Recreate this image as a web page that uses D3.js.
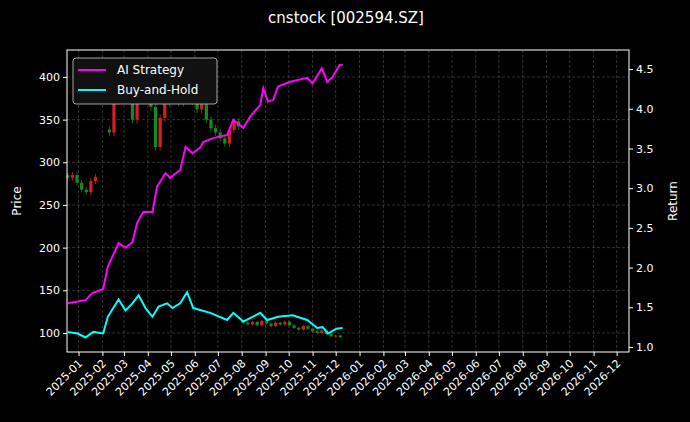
<!DOCTYPE html><html><head><meta charset="utf-8">
<script src="https://cdn.jsdelivr.net/npm/d3@7"></script>
<style>body{margin:0;background:#000}svg{font-family:"DejaVu Sans",sans-serif}</style></head><body>
<svg id="c" width="690" height="422"></svg>
<script>
const title="cnstock [002594.SZ]";
const candleStart="2024-12-18", candleStepDays=6;
const closes=[282,285,276,268,265,278,283,null,null,335,372,388,380,395,350,385,378,388,365,318,352,370,388,378,370,392,385,372,362,368,350,340,335,328,322,338,348,342,112,110,113,109,114,111,108,112,110,113,109,106,104,108,105,102,100,103,99,96,97,95];
const aiDays=[-14,9,18,32,38,52,61,70,76,84,96,102,113,119,132,139,148,158,162,175,193,201,214,223,236,240,246,253,259,275,297,304,316,323,330,339,343];
const aiRet=[1.55,1.59,1.68,1.73,2.01,2.31,2.25,2.32,2.56,2.70,2.70,3.02,3.19,3.13,3.23,3.52,3.44,3.51,3.58,3.63,3.67,3.86,3.76,3.90,4.05,4.26,4.09,4.11,4.28,4.34,4.39,4.32,4.51,4.34,4.40,4.55,4.55];
const bhDays=[-14,-1,9,19,32,38,52,61,70,78,87,96,104,115,122,132,141,149,171,193,201,214,236,245,259,278,297,310,317,324,335,343];
const bhRet=[1.19,1.17,1.12,1.19,1.17,1.38,1.60,1.46,1.55,1.65,1.49,1.38,1.51,1.55,1.49,1.55,1.69,1.49,1.43,1.34,1.43,1.32,1.43,1.34,1.38,1.40,1.34,1.24,1.25,1.17,1.23,1.24];
const priceTicks=[100,150,200,250,300,350,400];
const retTicks=[1.0,1.5,2.0,2.5,3.0,3.5,4.0,4.5];

const base=new Date(2025,0,1);
const dd=n=>d3.timeDay.offset(base,n);
const svg=d3.select("#c");
const L=67,R=629,T=50,B=352;
const x=d3.scaleTime().domain([new Date(2024,11,17),new Date(2026,11,17)]).range([L,R]);
const yP=d3.scaleLinear().domain([77.7,431.6]).range([B,T]);
const yR=d3.scaleLinear().domain([0.937,4.74]).range([B,T]);
svg.append("text").attr("x",346).attr("y",23).attr("text-anchor","middle").attr("fill","#fff").attr("font-size",15).text(title);
const months=d3.timeMonth.range(new Date(2025,0,1),new Date(2026,11,2));
const g=svg.append("g");
g.selectAll(".vg").data(months).join("line").attr("x1",d=>x(d)).attr("x2",d=>x(d)).attr("y1",T).attr("y2",B).attr("stroke","#555").attr("stroke-width",0.6).attr("stroke-dasharray","3,2");
g.selectAll(".hg").data(priceTicks).join("line").attr("x1",L).attr("x2",R).attr("y1",d=>yP(d)).attr("y2",d=>yP(d)).attr("stroke","#555").attr("stroke-width",0.6).attr("stroke-dasharray","3,2");
// candles
const s0=d3.timeParse("%Y-%m-%d")(candleStart);
let prev=null;const cd=[];
closes.forEach((c,i)=>{const d=d3.timeDay.offset(s0,i*candleStepDays);if(c!=null){const o=(prev==null||Math.abs(prev-c)/c>0.5)?c*1.01:prev;cd.push({d,o,c});}prev=c;});
const cg=svg.append("g");
cd.forEach(k=>{const col=k.c>=k.o?"#d62020":"#1a8a1a";const hi=Math.max(k.o,k.c)+k.c*0.012,lo=Math.min(k.o,k.c)-k.c*0.012;
cg.append("line").attr("x1",x(k.d)).attr("x2",x(k.d)).attr("y1",yP(hi)).attr("y2",yP(lo)).attr("stroke",col).attr("stroke-width",0.8);
cg.append("rect").attr("x",x(k.d)-1.6).attr("width",3.2).attr("y",yP(Math.max(k.o,k.c))).attr("height",Math.max(1,Math.abs(yP(k.o)-yP(k.c)))).attr("fill",col);});
const line=d3.line().x(d=>x(dd(d[0]))).y(d=>yR(d[1]));
svg.append("path").attr("d",line(aiDays.map((d,i)=>[d,aiRet[i]]))).attr("fill","none").attr("stroke","#ff00ff").attr("stroke-width",2);
svg.append("path").attr("d",line(bhDays.map((d,i)=>[d,bhRet[i]]))).attr("fill","none").attr("stroke","#00ffff").attr("stroke-width",2);
svg.append("rect").attr("x",L).attr("y",T).attr("width",R-L).attr("height",B-T).attr("fill","none").attr("stroke","#fff").attr("stroke-width",1);
const ax=svg.append("g").attr("transform",`translate(0,${B})`).call(d3.axisBottom(x).tickValues(months).tickFormat(d3.timeFormat("%Y-%m")).tickSize(4).tickSizeOuter(0));
ax.selectAll("text").attr("text-anchor","end").attr("transform","rotate(-45)").attr("dx","-0.5em").attr("dy","0.4em");
const ay=svg.append("g").attr("transform",`translate(${L},0)`).call(d3.axisLeft(yP).tickValues(priceTicks).tickSize(4).tickSizeOuter(0));
const ar=svg.append("g").attr("transform",`translate(${R},0)`).call(d3.axisRight(yR).tickValues(retTicks).tickFormat(d3.format(".1f")).tickSize(4).tickSizeOuter(0));
[ax,ay,ar].forEach(a=>{a.select(".domain").remove();a.selectAll("line").attr("stroke","#fff");a.selectAll("text").attr("fill","#fff").attr("font-size",11).attr("font-family","DejaVu Sans");});
svg.append("text").attr("transform","translate(21,201) rotate(-90)").attr("text-anchor","middle").attr("fill","#fff").attr("font-size",12).text("Price");
svg.append("text").attr("transform","translate(677,201) rotate(-90)").attr("text-anchor","middle").attr("fill","#fff").attr("font-size",12).text("Return");
const lg=svg.append("g");
lg.append("rect").attr("x",73).attr("y",58).attr("width",144).attr("height",46).attr("rx",3).attr("fill","#111").attr("stroke","#ccc").attr("stroke-width",0.8);
[["AI Strategy","#ff00ff"],["Buy-and-Hold","#00ffff"]].forEach((e,i)=>{const yy=70+i*20;
lg.append("line").attr("x1",78).attr("x2",106).attr("y1",yy).attr("y2",yy).attr("stroke",e[1]).attr("stroke-width",2);
lg.append("text").attr("x",117).attr("y",yy+4).attr("fill","#fff").attr("font-size",12).text(e[0]);});
</script></body></html>
